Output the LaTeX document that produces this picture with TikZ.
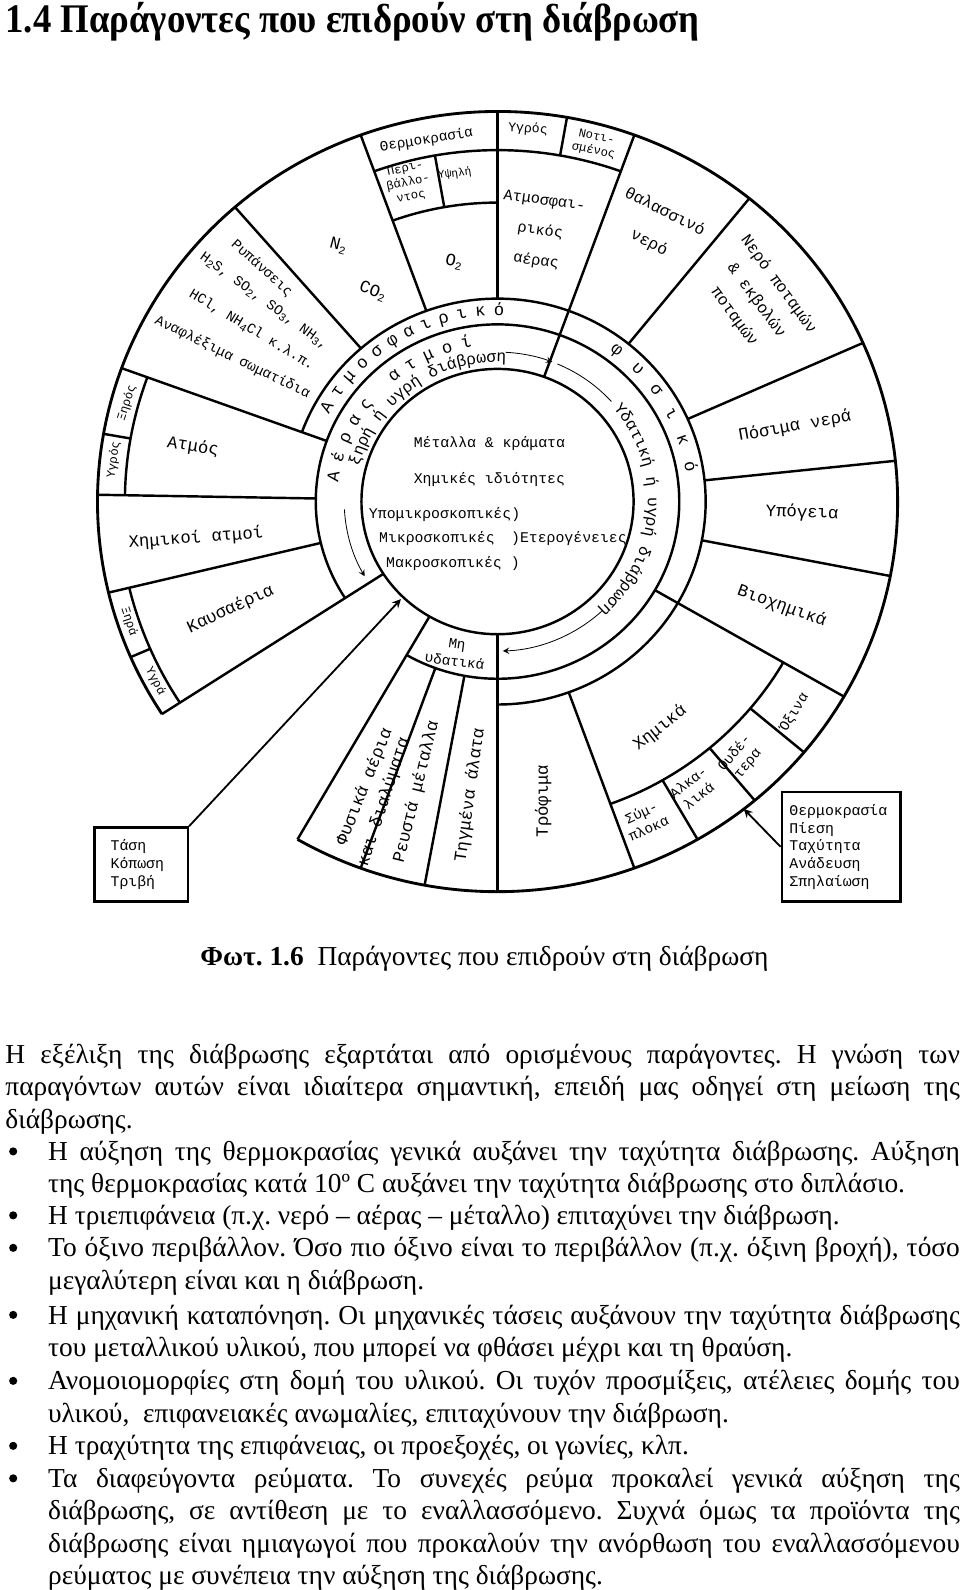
\documentclass[tikz,border=0pt]{standalone}
\usepackage{fontspec}
\setmainfont{Liberation Serif}
\newfontfamily\dgfont{Liberation Mono}
\usetikzlibrary{decorations.text}
\newcommand\lowidx[1]{\raisebox{-0.35ex}{\fontsize{5.5}{5.5}\selectfont #1}}
\frenchspacing

\tikzset{
  divider/.style={line width=1.2pt},
  lbl/.style={font=\dgfont\fontsize{8.5}{10.5}\selectfont, align=center, inner sep=0pt},
  midlbl/.style={font=\dgfont\fontsize{7}{8.5}\selectfont, align=center, inner sep=0pt},
  minilbl/.style={font=\dgfont\fontsize{6}{7}\selectfont, align=center, inner sep=0pt},
  discline/.style={font=\dgfont\fontsize{7.3}{9}\selectfont, inner sep=0pt},
  factorbox/.style={draw, line width=1.2pt, font=\dgfont\fontsize{7.3}{8.75}\selectfont, align=left, inner sep=0pt},
  bodyline/.style={anchor=base west, inner sep=0pt, font=\fontsize{13.5}{16}\selectfont},
  bulletdot/.style={fill, circle, inner sep=0pt, minimum size=4pt},
  arcword/.style={decorate, decoration={text along path, text align=center,
    text={|\dgfont\fontsize{8}{8}\selectfont|#1}}},
  arcspread/.style={decorate, decoration={text along path, text align=fit to path,
    text={|\dgfont\fontsize{8.5}{8.5}\selectfont|#1}}},
}

\begin{document}
\begin{tikzpicture}[x=0.5pt, y=-0.5pt, >=stealth]
  \useasboundingbox (0,0) rectangle (960,1566);
  \begin{pgfinterruptboundingbox}

  % the wheel of factors
  \begin{scope}[shift={(490,494)}, y=0.4875pt]
    \draw[divider] (0,0) circle[radius=134];
    \draw[divider] (-90:179) arc[start angle=-90, end angle=213, radius=179];
    \draw[divider] (240:179) arc[start angle=240, end angle=270, radius=179];
    \draw[divider] (-90:205) arc[start angle=-90, end angle=160, radius=205];
    \draw[line width=1.4pt] (-120:394) arc[start angle=-120, end angle=213, radius=394];
    \foreach \a/\ri in {70/134, 90/205, 110/205, 131/205, 160/179, 179/179,
        193.5/179, 213/134, 240/134, 250/179, 259.5/179, 270/134,
        -70/205, -30/179, -11/205, 6/205, 24/205, 51/205}
      \draw[divider] (\a:\ri) -- (\a:394);
    % small boxes at the rim
    \draw[divider] (70:355) arc[start angle=70, end angle=110, radius=355];
    \draw[divider] (90:302) arc[start angle=90, end angle=110, radius=302];
    \draw[divider] (100:302) -- (100:355);
    \draw[divider] (80:355) -- (80:394);
    \draw[divider] (160:367) arc[start angle=160, end angle=179, radius=367];
    \draw[divider] (170:367) -- (170:394);
    \draw[divider] (193.5:373) arc[start angle=193.5, end angle=213, radius=373];
    \draw[divider] (203.5:373) -- (203.5:394);
    \draw[divider] (-70:325) arc[start angle=-70, end angle=-30, radius=325];
    \foreach \a in {-60,-50,-40}
      \draw[divider] (\a:325) -- (\a:394);
    % arrows along the inner ring
    \draw[->] (183:151) arc[start angle=183, end angle=210, radius=151];
    \draw[->] (87:151) arc[start angle=87, end angle=69, radius=151];
    \draw (67:151) arc[start angle=67, end angle=42, radius=151];
    \draw[->] (-47:151) arc[start angle=-47, end angle=-88, radius=151];
    % words along the rings
    \path[arcspread={Ατμοσφαιρικό}] (152:188) arc[start angle=152, end angle=88, radius=188];
    \path[arcspread={φυσικό}] (54:188) arc[start angle=54, end angle=9, radius=188];
    \path[arcspread={Αέρας ατμοί}] (173:158) arc[start angle=173, end angle=99, radius=158];
    \path[arcword={ξηρή ή υγρή διάβρωση}] (168:141) arc[start angle=168, end angle=84, radius=141];
    \path[arcword={Υδατική ή υγρή διάβρωση}] (38:148) arc[start angle=38, end angle=-46, radius=148];
    \coordinate (dischit) at (226:137);
    \coordinate (rimhit) at (-52:394);
  \end{scope}

  % centre
  \node[discline] (metals) at (482,437) {Μέταλλα \& κράματα};
  \node[discline] (chemprop) at (482,472) {Χημικές ιδιότητες};
  \node[discline, anchor=west] (submicro) at (363,507) {Υπομικροσκοπικές)};
  \node[discline, anchor=west] (micro) at (373,530) {Μικροσκοπικές};
  \node[discline, anchor=west] (hetero) at (503,530) {)Ετερογένειες};
  \node[discline, anchor=west] (macro) at (380,555) {Μακροσκοπικές )};

  % atmosphere side
  \node[midlbl, rotate=9] (airtemp) at (420,138) {Θερμοκρασία};
  \node[minilbl, rotate=12] (ambient) at (402,180) {Περι-\\βάλλο-\\ντος};
  \node[minilbl, font=\dgfont\fontsize{5.5}{6}\selectfont, rotate=8] (high) at (448,171) {Υψηλή};
  \node[lbl, rotate=-15] (nitro) at (333,242) {N\lowidx{2}};
  \node[lbl, rotate=-20] (carbdi) at (367,287) {CO\lowidx{2}};
  \node[lbl, rotate=-12] (oxy) at (447,258) {O\lowidx{2}};
  \node[midlbl, rotate=-42] (pollut) at (258,264) {Ρυπάνσεις};
  \node[midlbl, rotate=-36] (gases) at (260,297) {H\lowidx{2}S, SO\lowidx{2}, SO\lowidx{3}, NH\lowidx{3},};
  \node[midlbl, rotate=-31] (salts) at (248,325) {HCl, NH\lowidx{4}Cl κ.λ.π.};
  \node[midlbl, rotate=-26] (particles) at (229,352) {Αναφλέξιμα σωματίδια};
  \node[minilbl, font=\dgfont\fontsize{6.5}{7}\selectfont, rotate=-3] (wetair) at (520,127) {Υγρός};
  \node[minilbl, rotate=-12] (damp) at (586,142) {Νοτι-\\σμένος};
  \node[midlbl, font=\dgfont\fontsize{7.5}{15}\selectfont, rotate=-8] (atmair) at (532,228) {Ατμοσφαι-\\ρικός\\αέρας};
  \node[lbl, rotate=-9] (steam) at (190,440) {Ατμός};
  \node[minilbl, rotate=72] (drysteam) at (125,397) {Ξηρός};
  \node[minilbl, rotate=82] (wetsteam) at (112,453) {Υγρός};
  \node[lbl, rotate=4] (chemvap) at (193,530) {Χημικοί ατμοί};
  \node[lbl, rotate=25] (exhaust) at (227,600) {Καυσαέρια};
  \node[minilbl, rotate=-72] (dryexh) at (127,612) {Ξηρά};
  \node[minilbl, rotate=-62] (wetexh) at (153,671) {Υγρά};

  % water side
  \node[lbl, font=\dgfont\fontsize{8}{17}\selectfont, rotate=-27] (sea) at (647,224) {θαλασσινό\\νερό};
  \node[lbl, font=\dgfont\fontsize{8}{13.5}\selectfont, rotate=-54] (river) at (745,296) {Νερό ποταμών\\\& εκβολών\\ποταμών};
  \node[lbl, rotate=10] (drink) at (783,420) {Πόσιμα νερά};
  \node[lbl, rotate=-2] (ground) at (790,505) {Υπόγεια};
  \node[lbl, rotate=-20] (biochem) at (770,597) {Βιοχημικά};
  \node[lbl, rotate=38] (chemsol) at (650,717) {Χημικά};
  \node[midlbl, rotate=25] (complex) at (635,808) {Σύμ-\\πλοκα};
  \node[midlbl, rotate=38] (alkali) at (683,777) {Αλκα-\\λικά};
  \node[midlbl, rotate=50] (neutral) at (730,747) {Ουδέ-\\τερα};
  \node[midlbl, rotate=58] (acid) at (782,702) {Όξινα};
  \node[lbl, rotate=90] (food) at (535,789) {Τρόφιμα};

  % non-aqueous side
  \node[midlbl, rotate=-8] (nonaq) at (449,643) {Μη\\υδατικά};
  \node[lbl, rotate=68] (natgas) at (359,775) {Φυσικά αέρια};
  \node[lbl, rotate=72] (solut) at (378,790) {και διαλύματα};
  \node[lbl, rotate=76] (liqmet) at (410,780) {Ρευστά μέταλλα};
  \node[lbl, rotate=82] (molten) at (463,783) {Τηγμένα άλατα};

  % outside boxes
  \node[factorbox, minimum width=46pt, minimum height=36.5pt, text width=30pt] (mechbox) at (139,851.5) {Τάση\\Κόπωση\\Τριβή};
  \node[factorbox, minimum width=58.5pt, minimum height=54pt, text width=51pt] (flowbox) at (828.5,834) {Θερμοκρασία\\Πίεση\\Ταχύτητα\\Ανάδευση\\Σπηλαίωση};
  \draw[->, line width=0.9pt] (mechbox.north east) -- (dischit);
  \draw[->, line width=0.9pt] (flowbox.west) -- (rimhit);

  % page text
  \node[anchor=base west, inner sep=0pt, font=\bfseries\fontsize{20}{24}\selectfont] (title) at (5,32)
    {\scalebox{0.905}[1]{1.4 Παράγοντες που επιδρούν στη διάβρωση}};
  \node[bodyline] (caption) at (197,951) {\textbf{Φωτ. 1.6}\enspace Παράγοντες που επιδρούν στη διάβρωση};

  \node[bodyline] (p1) at (5,1047) {\makebox[470pt][s]{Η εξέλιξη της διάβρωσης εξαρτάται από ορισμένους παράγοντες. Η γνώση των}};
  \node[bodyline] (p2) at (5,1079) {\makebox[470pt][s]{παραγόντων αυτών είναι ιδιαίτερα σημαντική, επειδή μας οδηγεί στη μείωση της}};
  \node[bodyline] (p3) at (5,1111) {διάβρωσης.};
  \node[bodyline] (b1a) at (47,1143) {\makebox[449pt][s]{Η αύξηση της θερμοκρασίας γενικά αυξάνει την ταχύτητα διάβρωσης. Αύξηση}};
  \node[bodyline] (b1b) at (47,1174) {της θερμοκρασίας κατά 10º C αυξάνει την ταχύτητα διάβρωσης στο διπλάσιο.};
  \node[bodyline] (b2a) at (47,1206) {Η τριεπιφάνεια (π.χ. νερό – αέρας – μέταλλο) επιταχύνει την διάβρωση.};
  \node[bodyline] (b3a) at (47,1238) {\makebox[449pt][s]{Το όξινο περιβάλλον. Όσο πιο όξινο είναι το περιβάλλον (π.χ. όξινη βροχή), τόσο}};
  \node[bodyline] (b3b) at (47,1270) {μεγαλύτερη είναι και η διάβρωση.};
  \node[bodyline] (b4a) at (47,1304) {\makebox[449pt][s]{Η μηχανική καταπόνηση. Οι μηχανικές τάσεις αυξάνουν την ταχύτητα διάβρωσης}};
  \node[bodyline] (b4b) at (47,1336) {του μεταλλικού υλικού, που μπορεί να φθάσει μέχρι και τη θραύση.};
  \node[bodyline] (b5a) at (47,1369) {\makebox[449pt][s]{Ανομοιομορφίες στη δομή του υλικού. Οι τυχόν προσμίξεις, ατέλειες δομής του}};
  \node[bodyline] (b5b) at (47,1401) {υλικού,\ \ επιφανειακές ανωμαλίες, επιταχύνουν την διάβρωση.};
  \node[bodyline] (b6a) at (47,1433) {Η τραχύτητα της επιφάνειας, οι προεξοχές, οι γωνίες, κλπ.};
  \node[bodyline] (b7a) at (47,1465) {\makebox[449pt][s]{Τα διαφεύγοντα ρεύματα. Το συνεχές ρεύμα προκαλεί γενικά αύξηση της}};
  \node[bodyline] (b7b) at (47,1497) {\makebox[449pt][s]{διάβρωσης, σε αντίθεση με το εναλλασσόμενο. Συχνά όμως τα προϊόντα της}};
  \node[bodyline] (b7c) at (47,1529) {\makebox[449pt][s]{διάβρωσης είναι ημιαγωγοί που προκαλούν την ανόρθωση του εναλλασσόμενου}};
  \node[bodyline] (b7d) at (47,1561) {ρεύματος με συνέπεια την αύξηση της διάβρωσης.};
  \foreach \yy in {1134,1197,1229,1295,1360,1424,1456}
    \node[bulletdot] (dot\yy) at (13,\yy) {};

  \end{pgfinterruptboundingbox}
\end{tikzpicture}
\end{document}
